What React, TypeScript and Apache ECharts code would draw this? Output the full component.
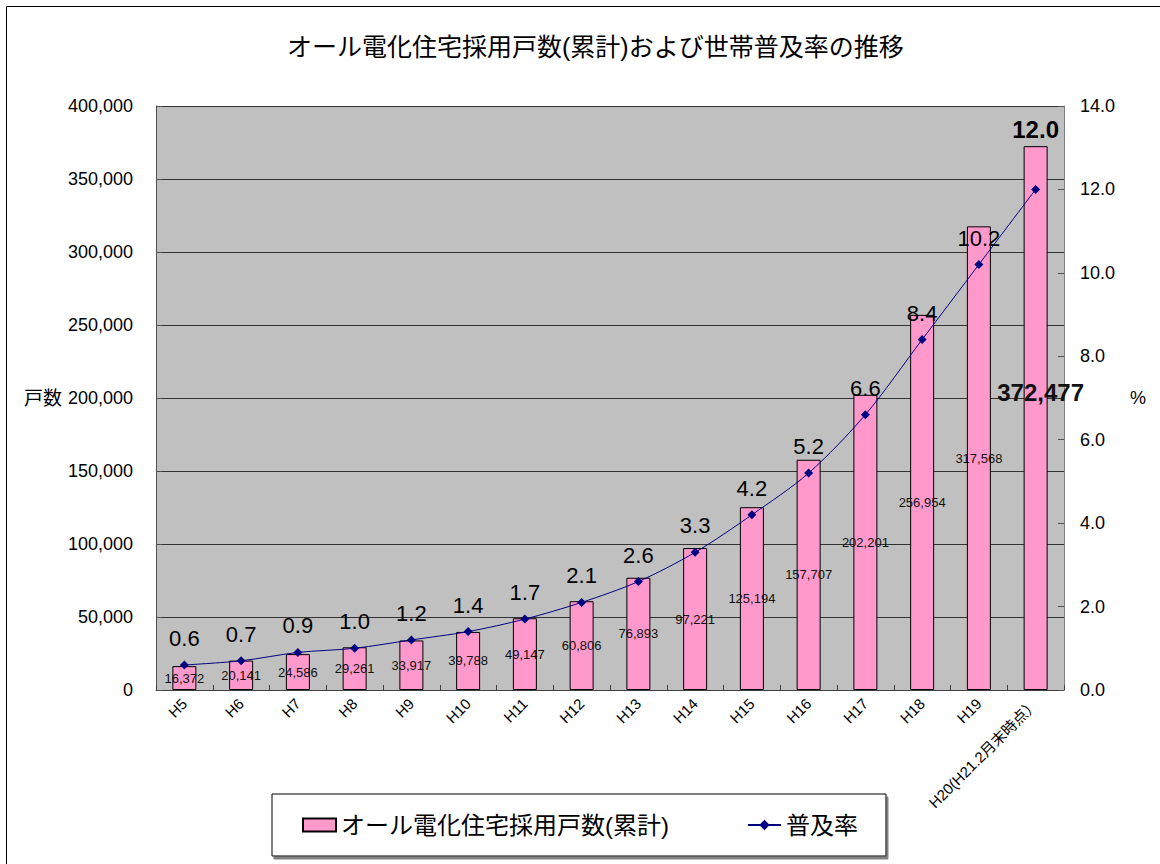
import React, { useEffect, useRef } from "react";
import * as echarts from "echarts";

const categories = ["H5", "H6", "H7", "H8", "H9", "H10", "H11", "H12", "H13", "H14", "H15", "H16", "H17", "H18", "H19", "H20(H21.2月末時点）"];
const households = [16372, 20141, 24586, 29261, 33917, 39788, 49147, 60806, 76893, 97221, 125194, 157707, 202201, 256954, 317568, 372477];
const rates = [0.6, 0.7, 0.9, 1.0, 1.2, 1.4, 1.7, 2.1, 2.6, 3.3, 4.2, 5.2, 6.6, 8.4, 10.2, 12.0];

const titleText = "オール電化住宅採用戸数(累計)および世帯普及率の推移";
const barName = "オール電化住宅採用戸数(累計)";
const lineName = "普及率";
const leftAxisName = "戸数";
const rightAxisName = "%";

const FONT = '"Liberation Sans", Arial, "Noto Sans CJK JP", sans-serif';

export default function App() {
  const ref = useRef<HTMLDivElement>(null);
  useEffect(() => {
    if (!ref.current) return;
    const chart = echarts.init(ref.current, undefined, { renderer: "svg" });
    const last = households.length - 1;
    const barData = households.map((v, i) =>
      i === last
        ? { value: v, label: { fontSize: 24, fontWeight: "bold", offset: [5, -26] } }
        : v
    );
    const lineData = rates.map((v, i) =>
      i === last ? { value: v, label: { fontSize: 24, fontWeight: "bold", distance: 43 } } : v
    );
    chart.setOption({
      animation: false,
      backgroundColor: "#ffffff",
      textStyle: { fontFamily: FONT, color: "#000" },
      title: {
        text: titleText,
        left: 282,
        top: 29,
        textStyle: { fontFamily: FONT, fontSize: 25, fontWeight: "normal", color: "#000" },
      },
      graphic: [
        {
          type: "rect",
          shape: { x: 6.5, y: 6.5, width: 1200, height: 900 },
          style: { fill: "none", stroke: "#000", lineWidth: 1 },
          silent: true,
          z: -10,
        },
      ],
      legend: {
        left: 272,
        top: 794,
        orient: "horizontal",
        padding: [19, 28, 19, 30],
        itemGap: 78,
        itemWidth: 33,
        itemHeight: 13,
        borderColor: "#000",
        borderWidth: 1,
        backgroundColor: "#fff",
        shadowColor: "#808080",
        shadowBlur: 0,
        shadowOffsetX: 2,
        shadowOffsetY: 3,
        textStyle: { fontFamily: FONT, fontSize: 24, color: "#000" },
        data: [{ name: barName, icon: "rect" }, { name: lineName }],
      },
      grid: {
        left: 156,
        right: 96,
        top: 106,
        bottom: 174,
        show: true,
        backgroundColor: "#C0C0C0",
        borderWidth: 0,
      },
      xAxis: {
        type: "category",
        data: categories,
        boundaryGap: true,
        axisLine: { lineStyle: { color: "#404040", width: 1 } },
        axisTick: { show: true, inside: true, length: 5, alignWithLabel: false, lineStyle: { color: "#404040" } },
        axisLabel: { rotate: 45, interval: 0, fontSize: 15, margin: 11, color: "#000", fontFamily: FONT },
      },
      yAxis: [
        {
          type: "value",
          min: 0,
          max: 400000,
          interval: 50000,
          name: leftAxisName,
          nameLocation: "middle",
          nameRotate: 0,
          nameGap: 94,
          nameTextStyle: { fontSize: 19, color: "#000", fontFamily: FONT },
          axisLine: { show: true, lineStyle: { color: "#505050" } },
          axisTick: { show: true, inside: true, length: 6, lineStyle: { color: "#505050" } },
          axisLabel: {
            fontSize: 18,
            margin: 23,
            color: "#000",
            fontFamily: FONT,
            formatter: (v: number) => v.toLocaleString("en-US"),
          },
          splitLine: { show: true, lineStyle: { color: "#333", width: 1 } },
        },
        {
          type: "value",
          min: 0,
          max: 14,
          interval: 2,
          position: "right",
          name: rightAxisName,
          nameLocation: "middle",
          nameRotate: 0,
          nameGap: 66,
          nameTextStyle: { fontSize: 18, color: "#000", fontFamily: FONT },
          axisLine: { show: true, lineStyle: { color: "#808080" } },
          axisTick: { show: true, inside: true, length: 6, lineStyle: { color: "#505050" } },
          axisLabel: {
            fontSize: 18,
            margin: 16,
            color: "#000",
            fontFamily: FONT,
            formatter: (v: number) => v.toFixed(1),
          },
          splitLine: { show: false },
        },
      ],
      series: [
        {
          name: barName,
          type: "bar",
          data: barData,
          barWidth: 24,
          yAxisIndex: 0,
          itemStyle: { color: "#FF99CC", borderColor: "#000", borderWidth: 1 },
          label: {
            show: true,
            position: "inside",
            fontSize: 13,
            color: "#111",
            fontFamily: FONT,
            formatter: (p: any) => Number(p.value).toLocaleString("en-US"),
          },
          z: 2,
        },
        {
          name: lineName,
          type: "line",
          data: lineData,
          yAxisIndex: 1,
          smooth: 0.3,
          symbol: "diamond",
          symbolSize: 9,
          lineStyle: { color: "#000080", width: 1 },
          itemStyle: { color: "#000080" },
          label: {
            show: true,
            position: "top",
            distance: 11,
            fontSize: 22,
            color: "#000",
            fontFamily: FONT,
            formatter: (p: any) => Number(p.value).toFixed(1),
          },
          z: 3,
        },
      ],
    });
    return () => chart.dispose();
  }, []);
  return <div ref={ref} style={{ position: "absolute", left: 0, top: 0, width: 1160, height: 864 }} />;
}
